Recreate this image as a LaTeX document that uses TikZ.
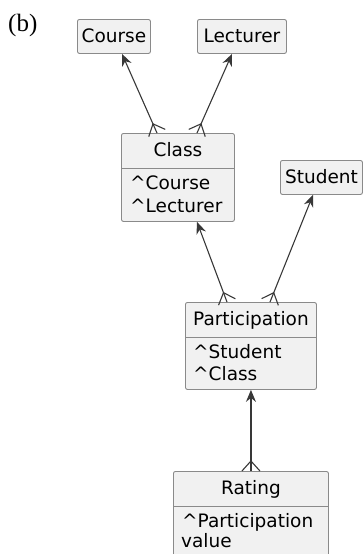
\documentclass[tikz,border=0pt]{standalone}
\usepackage{fontspec}
\usetikzlibrary{calc,arrows.meta}
\newfontfamily\umlfont{DejaVu Sans}
\newfontfamily\labfont{Liberation Serif}
\definecolor{boxfill}{HTML}{F1F1F1}
\definecolor{boxline}{HTML}{8A8A8A}
\definecolor{linkcol}{HTML}{383838}
\tikzset{
  umlbox/.style={draw=boxline, fill=boxfill, rounded corners=2pt, line width=0.9pt,
    inner sep=0pt, anchor=north west},
  divider/.style={draw=boxline, line width=0.9pt},
  umltext/.style={inner sep=0pt, font=\umlfont\fontsize{18.5}{23}\selectfont},
  title/.style={umltext, anchor=base},
  attr/.style={umltext, anchor=base west},
  link/.style={draw=linkcol, line width=1.1pt, -{Stealth[length=12pt,width=10pt,inset=4pt]}},
  foot/.style={draw=linkcol, line width=1.1pt, line join=round},
}
% crow's foot at the many-end #1 of a link heading towards #2
\newcommand\crowfoot[2]{\draw[foot] ($(#1)!9pt!90:(#2)$) -- ($(#1)!10pt!(#2)$) -- ($(#1)!9pt!-90:(#2)$);}
\begin{document}
\begin{tikzpicture}[x=1pt,y=-1pt]
  \useasboundingbox (0,0) rectangle (363,554);
  \clip (0,0) rectangle (363,554);

  \node[inner sep=0pt, anchor=base west, font=\labfont\fontsize{25}{28}\selectfont] (lbl) at (8,31) {(b)};

  % Course
  \node[umlbox, minimum width=73pt, minimum height=34pt] (crs) at (77,19) {};
  \node[title] (crs-t) at ($(crs.north)+(0,23.5)$) {Course};
  % Lecturer
  \node[umlbox, minimum width=89pt, minimum height=34pt] (lec) at (197,19) {};
  \node[title] (lec-t) at ($(lec.north)+(0,23.5)$) {Lecturer};
  % Student
  \node[umlbox, minimum width=82pt, minimum height=34pt] (stu) at (280,160) {};
  \node[title] (stu-t) at ($(stu.north)+(0,23.5)$) {Student};

  % Class
  \node[umlbox, minimum width=113pt, minimum height=88pt] (cls) at (121,133) {};
  \draw[divider] ($(cls.north west)+(0,35)$) -- ($(cls.north east)+(0,35)$);
  \node[title] (cls-t) at ($(cls.north)+(0,23.5)$) {Class};
  \node[attr] (cls-a1) at ($(cls.north west)+(9,56.5)$) {\textasciicircum Course};
  \node[attr] (cls-a2) at ($(cls.north west)+(9,79.5)$) {\textasciicircum Lecturer};

  % Participation
  \node[umlbox, minimum width=131pt, minimum height=87pt] (par) at (185,302) {};
  \draw[divider] ($(par.north west)+(0,35)$) -- ($(par.north east)+(0,35)$);
  \node[title] (par-t) at ($(par.north)+(0,23.5)$) {Participation};
  \node[attr] (par-a1) at ($(par.north west)+(8,56.5)$) {\textasciicircum Student};
  \node[attr] (par-a2) at ($(par.north west)+(8,78.5)$) {\textasciicircum Class};

  % Rating
  \node[umlbox, minimum width=155pt, minimum height=100pt] (rat) at (173,471) {};
  \draw[divider] ($(rat.north west)+(0,35)$) -- ($(rat.north east)+(0,35)$);
  \node[title] (rat-t) at ($(rat.north)+(0,23.5)$) {Rating};
  \node[attr] (rat-a1) at ($(rat.north west)+(9,56.5)$) {\textasciicircum Participation};
  \node[attr] (rat-a2) at ($(rat.north west)+(8,76)$) {value};

  % link end points
  \coordinate (e1) at ($(cls.north west)+(36,0)$);
  \coordinate (t1) at ($(crs.south west)+(45,0)$);
  \coordinate (e2) at ($(cls.north west)+(76,0)$);
  \coordinate (t2) at ($(lec.south west)+(35,0)$);
  \coordinate (e3) at ($(par.north west)+(42,0)$);
  \coordinate (t3) at ($(cls.south west)+(76,0)$);
  \coordinate (e4) at ($(par.north west)+(85,0)$);
  \coordinate (t4) at ($(stu.south west)+(33,0)$);
  \coordinate (e5) at (rat.north);
  \coordinate (t5) at (par.south);

  \foreach \i in {1,...,5} {
    \draw[link] (e\i) -- (t\i);
    \crowfoot{e\i}{t\i}
  }
\end{tikzpicture}
\end{document}
